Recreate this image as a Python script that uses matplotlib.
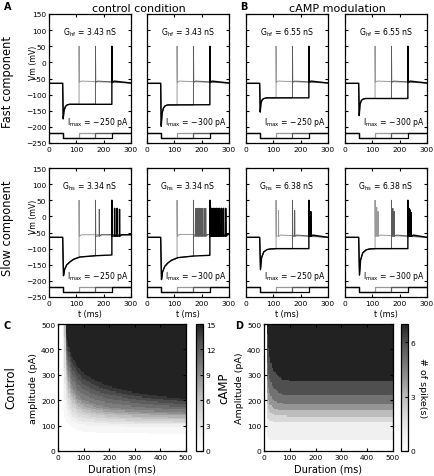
import numpy as np
import matplotlib
matplotlib.use('Agg')
import matplotlib.pyplot as plt
from matplotlib.colors import ListedColormap

plt.rcParams['font.family'] = 'DejaVu Sans'
plt.rcParams['mathtext.default'] = 'regular'
plt.rcParams['xtick.direction'] = 'in'
plt.rcParams['ytick.direction'] = 'in'
plt.rcParams['xtick.top'] = True
plt.rcParams['ytick.right'] = True
plt.rcParams['xtick.labelsize'] = 5.4
plt.rcParams['ytick.labelsize'] = 5.4
plt.rcParams['xtick.major.size'] = 2.5
plt.rcParams['ytick.major.size'] = 2.5
plt.rcParams['xtick.major.pad'] = 2.5
plt.rcParams['ytick.major.pad'] = 2.0
plt.rcParams['axes.linewidth'] = 0.9

# ---------------- data: voltage traces ----------------
t_release = [110, 170, 230]
trace_colors = ['#9a9a9a', '#5a5a5a', 'black']
v_rest = -65
i_base, i_step = -220, -235

g_fast = ['3.43', '3.43', '6.55', '6.55']
g_slow = ['3.34', '3.34', '6.38', '6.38']
i_max = ['\u2212250', '\u2212300', '\u2212250', '\u2212300']

# hyperpolarisation (sag) keypoints, from t = 50 ms
fast_hyp_t = [50, 52, 55, 60, 66, 75, 300]
fast_hyp_v = [
    [-65, -175, -150, -137, -132, -130, -130],
    [-65, -198, -160, -142, -135, -132, -131],
    [-65, -154, -125, -115, -112, -110, -110],
    [-65, -165, -130, -118, -114, -112, -112],
]
slow_hyp_t = [50, 53, 57, 65, 77, 90, 113, 170, 300]
slow_hyp_v = [
    [-65, -184, -165, -150, -141, -133, -126, -122, -117],
    [-65, -196, -172, -155, -144, -136, -128, -123, -118],
    [-65, -165, -128, -110, -103, -101, -100, -100, -100],
    [-65, -182, -135, -113, -104, -101, -100, -100, -100],
]

# spikes (time, peak) per panel, per trace (light, mid, black)
fast_spikes = [[[(tr, 50)] for tr in t_release] for _ in range(4)]
slow_spikes = [
    [[(110, 50)],
     [(170, 50), (184, 22)],
     [(230, 50), (240, 25), (249, 25), (258, 22)]],
    [[(110, 50)],
     [(170, 50), (178, 25), (183, 25), (188, 25), (193, 25), (198, 25),
      (203, 25), (209, 25), (215, 25)],
     [(230, 50), (236, 25), (242, 25), (248, 25), (254, 25), (260, 25),
      (266, 25), (273, 25), (280, 25), (288, 25)]],
    [[(110, 50), (119, 18)],
     [(170, 50), (178, 18)],
     [(230, 50), (237, 15)]],
    [[(110, 50), (116, 28), (121, 15)],
     [(170, 50), (175, 25), (180, 15)],
     [(230, 50), (234, 25), (238, 20), (242, 12)]],
]
# after-spike voltage: level right after, level a bit later, level at 300 ms
fast_post = [[-62, -58, -64]] * 4
slow_post = [[-62, -57, -57], [-62, -56, -56], [-62, -58, -65], [-62, -58, -65]]

# ---------------- data: spike count maps ----------------
c_dur = [15, 20, 25, 30, 40, 50, 75, 100, 150, 200, 300, 400, 500]
c_levels = [1, 2, 5, 10, 15]
c_amp = [
    [999, 180, 140, 120, 105, 95, 82, 76, 72, 70, 68, 67, 67],
    [999, 400, 230, 170, 140, 122, 108, 103, 100, 98, 97, 97, 97],
    [999, 999, 480, 300, 220, 185, 155, 143, 132, 126, 120, 118, 117],
    [999, 999, 999, 400, 320, 270, 220, 200, 182, 172, 162, 156, 152],
    [999, 999, 999, 470, 420, 380, 335, 305, 275, 255, 230, 215, 205],
]
d_dur = [5, 10, 15, 20, 30, 40, 50, 75, 100, 500]
d_levels = [1, 2, 3, 4, 5, 6, 7]
d_amp = [
    [999, 60, 50, 47, 47, 47, 47, 47, 47, 47],
    [999, 130, 125, 120, 118, 117, 116, 116, 116, 116],
    [999, 200, 170, 155, 148, 143, 140, 138, 137, 137],
    [999, 250, 210, 190, 175, 168, 163, 160, 159, 159],
    [999, 300, 260, 235, 210, 198, 192, 187, 185, 185],
    [999, 370, 320, 290, 260, 245, 235, 222, 219, 218],
    [999, 500, 420, 385, 330, 310, 300, 280, 277, 277],
]

W, H = 434, 477
fig = plt.figure(figsize=(W / 100, H / 100), dpi=100)


def add_ax(x0, y0, x1, y1):
    return fig.add_axes([x0 / W, 1 - y1 / H, (x1 - x0) / W, (y1 - y0) / H])


def build_trace(hyp_t, hyp_v, tr, spikes, post):
    t = [0, 50]
    v = [v_rest, v_rest]
    for ti, vi in zip(hyp_t[1:], hyp_v[1:]):
        if ti < tr:
            t.append(ti)
            v.append(vi)
    t.append(tr)
    v.append(np.interp(tr, hyp_t, hyp_v))
    for k, (ts, pk) in enumerate(spikes):
        if k == 0:
            t += [ts, ts + 1.0]
            v += [pk, post[0]]
        else:
            t += [ts - 0.3, ts, ts + 0.6]
            v += [post[0] + 2, pk, post[0]]
    last = spikes[-1][0]
    t += [last + 8, 300]
    v += [post[1], post[2]]
    return t, v


def spike_grid(dur_pts, amps, levels, step=5):
    centers = np.arange(step / 2, 500, step)
    thr = np.array([np.interp(centers, dur_pts, row) for row in amps])
    grid = np.zeros((len(centers), len(centers)))
    for j in range(len(centers)):
        xp = np.concatenate([[0.0], np.maximum.accumulate(thr[:, j])])
        xp = xp + np.arange(len(xp)) * 1e-3
        fp = np.concatenate([[0], levels])
        grid[:, j] = np.floor(np.interp(centers, xp, fp))
    return grid


col_x = [(49, 131), (147, 229), (246, 328), (345, 427)]
row_y = [(15, 144), (169, 298)]

rows = [
    (fast_hyp_t, fast_hyp_v, fast_spikes, fast_post, g_fast, 'hf'),
    (slow_hyp_t, slow_hyp_v, slow_spikes, slow_post, g_slow, 'hs'),
]
for r, (h_t, h_v, spk, post, gvals, sub) in enumerate(rows):
    for c in range(4):
        ax = add_ax(col_x[c][0], row_y[r][0], col_x[c][1], row_y[r][1])
        for k, tr in enumerate(t_release):
            tt, vv = build_trace(h_t, h_v[c], tr, spk[c][k], post[c])
            ax.plot(tt, vv, color=trace_colors[k], lw=0.7 if k < 2 else 1.0)
        for k, tr in enumerate(t_release):
            ax.plot([0, 50, 50, tr, tr, 300],
                    [i_base, i_base, i_step, i_step, i_base, i_base],
                    color=trace_colors[k], lw=0.9)
        ax.text(150, 95, 'G$_{%s}$ = %s nS' % (sub, gvals[c]),
                ha='center', va='center', fontsize=5.6)
        ax.text(292, -182, 'I$_{max}$ = %s pA' % i_max[c],
                ha='right', va='center', fontsize=5.6)
        ax.set_xlim(0, 300)
        ax.set_ylim(-250, 150)
        ax.set_xticks([0, 100, 200, 300])
        ax.set_yticks(np.arange(-250, 151, 50))
        if c == 0:
            ax.set_ylabel('Vm (mV)', fontsize=5.6)
            ax.yaxis.set_label_coords(-0.13, 0.63)
        else:
            ax.set_yticklabels([])
        if r == 1:
            ax.set_xlabel('t (ms)', fontsize=5.8, labelpad=2)

# heat maps
cmap = ListedColormap(plt.cm.Greys(np.linspace(0, 0.88, 256)))
maps = [
    (spike_grid(c_dur, c_amp, c_levels), 15, [0, 3, 6, 9, 12, 15],
     (58, 325, 186, 452), (196, 325, 203, 452), 'amplitude (pA)'),
    (spike_grid(d_dur, d_amp, d_levels), 7, [0, 3, 6],
     (264, 325, 393, 452), (401, 325, 408, 452), 'Amplitude (pA)'),
]
for grid, vmax, cticks, apos, cpos, ylab in maps:
    ax = add_ax(*apos)
    im = ax.imshow(grid, origin='lower', extent=[0, 500, 0, 500],
                   aspect='auto', cmap=cmap, vmin=0, vmax=vmax,
                   interpolation='nearest')
    ax.set_xticks(np.arange(0, 501, 100))
    ax.set_yticks(np.arange(0, 501, 100))
    ax.set_xlabel('Duration (ms)', fontsize=7, labelpad=2)
    ax.set_ylabel(ylab, fontsize=6.8, labelpad=2)
    cax = add_ax(*cpos)
    cb = fig.colorbar(im, cax=cax, ticks=cticks)
    cb.ax.tick_params(labelsize=5.4, direction='in', length=2.5, pad=2)
    cb.outline.set_linewidth(0.9)
    if vmax == 7:
        cb.set_label('# of spike(s)', fontsize=6.8, rotation=270, labelpad=8)

# figure texts
fig.text(139 / W, 1 - 9 / H, 'control condition', ha='center', va='center', fontsize=8)
fig.text(337 / W, 1 - 9 / H, 'cAMP modulation', ha='center', va='center', fontsize=8)
fig.text(8 / W, 1 - 82 / H, 'Fast component', rotation=90, ha='center', va='center', fontsize=8.3)
fig.text(8 / W, 1 - 228 / H, 'Slow component', rotation=90, ha='center', va='center', fontsize=8.3)
fig.text(11 / W, 1 - 388 / H, 'Control', rotation=90, ha='center', va='center', fontsize=8.5)
fig.text(224 / W, 1 - 388 / H, 'cAMP', rotation=90, ha='center', va='center', fontsize=8.5)
for letter, x, y in [('A', 4, 7), ('B', 240, 7), ('C', 3, 326), ('D', 235, 326)]:
    fig.text(x / W, 1 - y / H, letter, fontweight='bold', fontsize=7,
             ha='left', va='center')

fig.savefig('out.png', dpi=100)
